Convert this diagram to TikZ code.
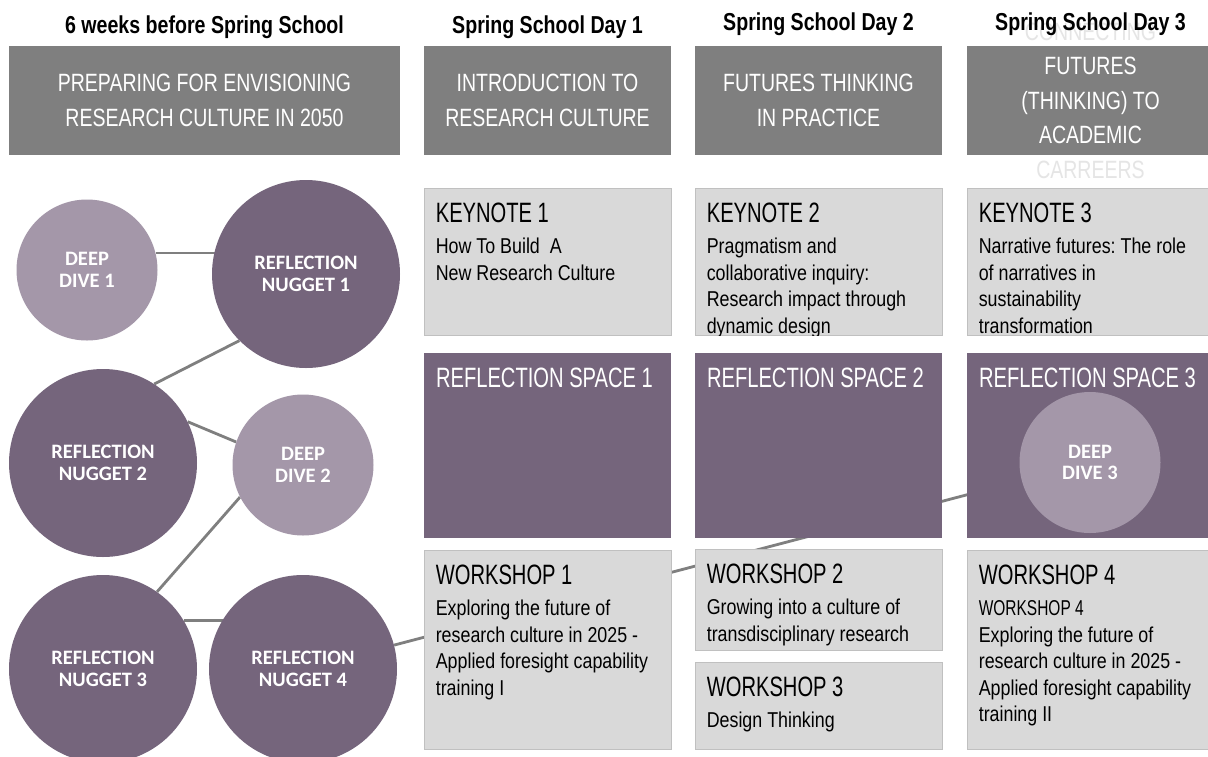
\documentclass[tikz,border=0pt]{standalone}
\usepackage{fontspec}
\setmainfont{Liberation Sans}
\newfontfamily\titlefont{Liberation Sans}[FakeStretch=0.8]
\newfontfamily\capsfont{Liberation Sans}[FakeStretch=0.72]
\newfontfamily\headerfont{Liberation Sans}[FakeStretch=0.78]
\newfontfamily\bodyfont{Liberation Sans}[FakeStretch=0.83]
\newfontfamily\circfont{Carlito}
\usetikzlibrary{positioning,backgrounds}

\definecolor{plumdark}{RGB}{117,101,124}
\definecolor{plumlight}{RGB}{164,151,169}
\definecolor{headgray}{RGB}{127,127,127}
\definecolor{palegray}{RGB}{217,217,217}
\definecolor{edgegray}{RGB}{192,192,192}
\newcommand\headsize{\capsfont\fontsize{28}{30}\selectfont}

\begin{document}
\frenchspacing
\begin{tikzpicture}[x=1pt, y=-1pt,
  daytitle/.style = {font=\titlefont\bfseries\fontsize{24.5}{28}\selectfont, inner sep=0pt},
  headtext/.style = {text=white, align=center, inner sep=0pt,
    font=\headerfont\fontsize{25}{34.5}\selectfont},
  headbox/.style = {headtext, rectangle, fill=headgray, minimum height=109pt},
  infobox/.style = {rectangle, fill=palegray, draw=edgegray, line width=0.8pt,
    minimum width=247pt, inner sep=0pt},
  spacebox/.style = {rectangle, fill=plumdark, minimum width=247pt,
    minimum height=185pt, inner sep=0pt},
  infotext/.style = {anchor=north west, align=left, inner sep=0pt,
    font=\bodyfont\fontsize{21.5}{26.5}\selectfont},
  spacetext/.style = {anchor=base west, inner sep=0pt, text=white, font=\headsize},
  nugget/.style = {circle, fill=plumdark, minimum size=188pt, inner sep=0pt,
    text=white, align=center, font=\circfont\bfseries\fontsize{20.5}{21.5}\selectfont},
  dive/.style = {nugget, fill=plumlight, minimum size=141pt},
  link/.style = {draw=headgray, line width=2.8pt}
  ]
  \useasboundingbox (0,0) rectangle (1208,756);

  \node[headbox, minimum width=391pt] (hd0) at (204.5,100.5)
    {PREPARING FOR ENVISIONING\\RESEARCH CULTURE IN 2050};
  \node[headbox, minimum width=247pt] (hd1) at (547.5,100.5)
    {INTRODUCTION TO\\RESEARCH CULTURE};
  \node[headbox, minimum width=247pt] (hd2) at (818.5,100.5)
    {FUTURES THINKING\\IN PRACTICE};
  \node[headbox, minimum width=247pt] (hd3) at (1090.5,100.5) {};
  \node[headtext] (hd3txt) at (hd3.center)
    {{\color{black!10}CONNECTING}\\FUTURES\\(THINKING) TO\\ACADEMIC\\{\color{black!10}CARREERS}};

  \node[daytitle, above=7pt of hd0] (t0) {6 weeks before Spring School};
  \node[daytitle, above=7pt of hd1] (t1) {Spring School Day 1};
  \node[daytitle, above=9.5pt of hd2] (t2) {Spring School Day 2};
  \node[daytitle, above=9.5pt of hd3] (t3) {Spring School Day 3};

  \node[dive] (dd1) at (87,270) {DEEP\\DIVE 1};
  \node[nugget] (rn1) at (306,274) {REFLECTION\\NUGGET 1};
  \node[nugget] (rn2) at (103,463) {REFLECTION\\NUGGET 2};
  \node[dive] (dd2) at (303,465) {DEEP\\DIVE 2};
  \node[nugget] (rn3) at (103,669) {REFLECTION\\NUGGET 3};
  \node[nugget] (rn4) at (303,669) {REFLECTION\\NUGGET 4};

  \node[infobox, minimum height=147.5pt] (ky1) at (547.5,261.75) {};
  \node[infobox, minimum height=147.5pt] (ky2) at (818.5,261.75) {};
  \node[infobox, minimum height=147.5pt] (ky3) at (1090.5,261.75) {};
  \node[infotext] (ky1txt) at ([xshift=12pt,yshift=-15pt]ky1.north west)
    {{\headsize KEYNOTE 1}\\[5pt]How To Build~ A\\New Research Culture};
  \begin{scope}
    \clip (ky2.south west) rectangle (ky2.north east);
    \node[infotext] (ky2txt) at ([xshift=12pt,yshift=-15pt]ky2.north west)
      {{\headsize KEYNOTE 2}\\[5pt]Pragmatism and\\collaborative inquiry:\\Research impact through\\dynamic design};
  \end{scope}
  \begin{scope}
    \clip (ky3.south west) rectangle (ky3.north east);
    \node[infotext] (ky3txt) at ([xshift=12pt,yshift=-15pt]ky3.north west)
      {{\headsize KEYNOTE 3}\\[5pt]Narrative futures: The role\\of narratives in\\sustainability\\transformation};
  \end{scope}

  \node[spacebox] (rs1) at (547.5,445.5) {};
  \node[spacebox] (rs2) at (818.5,445.5) {};
  \node[spacebox] (rs3) at (1090.5,445.5) {};
  \node[spacetext] (rs1txt) at ([xshift=12pt,yshift=-35pt]rs1.north west) {REFLECTION SPACE 1};
  \node[spacetext] (rs2txt) at ([xshift=12pt,yshift=-35pt]rs2.north west) {REFLECTION SPACE 2};
  \node[spacetext] (rs3txt) at ([xshift=12pt,yshift=-35pt]rs3.north west) {REFLECTION SPACE 3};
  \node[dive] (dd3) at (1090,462.5) {DEEP\\DIVE 3};

  \node[infobox, minimum height=199pt] (ws1) at (547.5,649.5) {};
  \node[infobox, minimum height=101pt] (ws2) at (818.5,599.5) {};
  \node[infobox, minimum height=87pt] (ws3) at (818.5,705.5) {};
  \node[infobox, minimum height=199pt] (ws4) at (1090.5,649.5) {};
  \node[infotext] (ws1txt) at ([xshift=12pt,yshift=-15pt]ws1.north west)
    {{\headsize WORKSHOP 1}\\[5pt]Exploring the future of\\research culture in 2025 -\\Applied foresight capability\\training I};
  \node[infotext] (ws2txt) at ([xshift=12pt,yshift=-15pt]ws2.north west)
    {{\headsize WORKSHOP 2}\\[5pt]Growing into a culture of\\transdisciplinary research};
  \node[infotext] (ws3txt) at ([xshift=12pt,yshift=-15pt]ws3.north west)
    {{\headsize WORKSHOP 3}\\[5pt]Design Thinking};
  \node[infotext] (ws4txt) at ([xshift=12pt,yshift=-15pt]ws4.north west)
    {{\headsize WORKSHOP 4}\\[5pt]{\capsfont WORKSHOP 4}\\Exploring the future of\\research culture in 2025 -\\Applied foresight capability\\training II};

  \begin{scope}[on background layer]
    \fill[white] (0,0) rectangle (1208,756);
    \draw[link] (dd1.14) -- (dd1.14 -| rn1.center);
    \draw[link] (rn1.225) -- (rn2.57);
    \draw[link] (rn2.26) -- (dd2.161);
    \draw[link] (dd2.207) -- (rn3.55);
    \draw[link] (rn3.31) -- (rn3.31 -| rn4.center);
    \draw[link] (rn4) -- (dd3);
  \end{scope}
\end{tikzpicture}
\end{document}
